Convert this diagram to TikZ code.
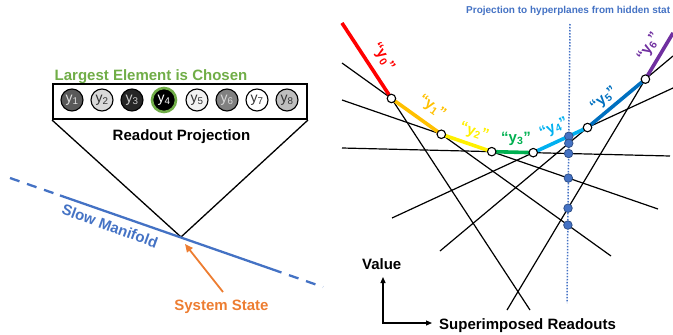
\documentclass[tikz,border=0pt]{standalone}
\usepackage{fontspec}
\setmainfont{Liberation Sans}
\usetikzlibrary{arrows.meta}
\definecolor{mgreen}{HTML}{70AD47}
\definecolor{mblue}{HTML}{4472C4}
\definecolor{morange}{HTML}{ED7D31}
\definecolor{cyA}{HTML}{FF0000}
\definecolor{cyB}{HTML}{FFC000}
\definecolor{cyC}{HTML}{FFF000}
\definecolor{cyD}{HTML}{00B050}
\definecolor{cyE}{HTML}{00B0F0}
\definecolor{cyF}{HTML}{0070C0}
\definecolor{cyG}{HTML}{7030A0}
\begin{document}
\begin{tikzpicture}[x=1pt,y=-1pt,
  lbl/.style={font=\bfseries\fontsize{15}{18}\selectfont, inner sep=0pt},
  cell/.style={circle, draw=black, line width=1.1pt, minimum size=22pt, inner sep=0pt, font=\fontsize{14}{16}\selectfont},
  hyp/.style={black, line width=1.2pt},
  seg/.style={line width=3.6pt},
  vtx/.style={circle, draw=black, fill=white, line width=1.1pt, minimum size=8.5pt, inner sep=0pt},
  dotpt/.style={circle, draw=mblue!70!black, fill=mblue, line width=0.8pt, minimum size=8.5pt, inner sep=0pt},
  seglbl/.style={font=\bfseries\fontsize{15}{18}\selectfont, inner sep=0pt}
]
\useasboundingbox (0,0) rectangle (673,335);

% ---------------- left panel ----------------
\node[lbl, text=mgreen, anchor=base] (title) at (151,80.5) {Largest Element is Chosen};
\node[draw=black, line width=2pt, minimum width=254pt, minimum height=35pt, inner sep=0pt] (box) at (180,101.5) {};
\node[cell, fill=black!65, text=black!12] (c1) at (72,100) {y\textsubscript{1}};
\node[cell, fill=black!15, text=black!80] (c2) at (102,100) {y\textsubscript{2}};
\node[cell, fill=black!85, text=black!20] (c3) at (132,100) {y\textsubscript{3}};
\node[cell, fill=black, text=white, draw=mgreen, line width=2.6pt, minimum size=24pt] (c4) at (164,100) {y\textsubscript{4}};
\node[cell, fill=black!5, text=black!80] (c5) at (197,100) {y\textsubscript{5}};
\node[cell, fill=black!50, text=black!15] (c6) at (227,100) {y\textsubscript{6}};
\node[cell, fill=white, text=black!80] (c7) at (257,100) {y\textsubscript{7}};
\node[cell, fill=black!25, text=black!80] (c8) at (287,100) {y\textsubscript{8}};
\node[lbl, anchor=base] (ro) at (181.5,140) {Readout Projection};

\coordinate (apex) at (181,237);
\draw[black, line width=1.3pt] (box.south west) -- (apex) -- (box.south east);

\coordinate (m1) at (10,178);
\coordinate (m2) at (60,195.4);
\coordinate (m3) at (272,269.2);
\coordinate (m4) at (323,287);
\draw[mblue, line width=2.3pt, dash pattern=on 10pt off 8pt] (m1) -- (m2);
\draw[mblue, line width=2.3pt] (m2) -- (m3);
\draw[mblue, line width=2.3pt, dash pattern=on 10pt off 8pt] (m3) -- (m4);
\node[lbl, text=mblue, rotate=-20] (slow) at (110,226) {Slow Manifold};

\coordinate (ssA) at (223,292);
\coordinate (ssB) at (185,244);
\draw[morange, line width=1.8pt, -{Triangle[length=8pt,width=7pt]}] (ssA) -- (ssB);
\node[lbl, text=morange, anchor=base] (ss) at (221.5,310) {System State};

% ---------------- right panel ----------------
\node[font=\bfseries\fontsize{10}{12}\selectfont, text=mblue, anchor=base west, inner sep=0pt] (hdr) at (466,13) {Projection to hyperplanes from hidden stat};

\coordinate (A1) at (342,23);  \coordinate (A2) at (530,310);
\coordinate (B1) at (342,63);  \coordinate (B2) at (611,256);
\coordinate (C1) at (342,100); \coordinate (C2) at (658,209);
\coordinate (D1) at (342,148); \coordinate (D2) at (670,156);
\coordinate (E1) at (392,218); \coordinate (E2) at (673,88);
\coordinate (F1) at (440,251); \coordinate (F2) at (673,56);
\coordinate (G1) at (507,310); \coordinate (G2) at (673,33);
\coordinate (P1) at (570,24);  \coordinate (P2) at (567,303);

\coordinate (V0) at (intersection of A1--A2 and B1--B2);
\coordinate (V1) at (intersection of B1--B2 and C1--C2);
\coordinate (V2) at (intersection of C1--C2 and D1--D2);
\coordinate (V3) at (intersection of D1--D2 and E1--E2);
\coordinate (V4) at (intersection of E1--E2 and F1--F2);
\coordinate (V5) at (intersection of F1--F2 and G1--G2);

\draw[hyp] (A1) -- (A2);
\draw[hyp] (B1) -- (B2);
\draw[hyp] (C1) -- (C2);
\draw[hyp] (D1) -- (D2);
\draw[hyp] (E1) -- (E2);
\draw[hyp] (F1) -- (F2);
\draw[hyp] (G1) -- (G2);

\draw[seg, cyA] (A1) -- (V0);
\draw[seg, cyB] (V0) -- (V1);
\draw[seg, cyC] (V1) -- (V2);
\draw[seg, cyD] (V2) -- (V3);
\draw[seg, cyE] (V3) -- (V4);
\draw[seg, cyF] (V4) -- (V5);
\draw[seg, cyG] (V5) -- (G2);

\draw[mblue, line width=1.5pt, dash pattern=on 1.5pt off 1.5pt] (P1) -- (P2);

\node[dotpt] (dE) at (intersection of P1--P2 and E1--E2) {};
\node[dotpt] (dF) at (intersection of P1--P2 and F1--F2) {};
\node[dotpt] (dD) at (intersection of P1--P2 and D1--D2) {};
\node[dotpt] (dC) at (intersection of P1--P2 and C1--C2) {};
\node[dotpt] (dG) at (intersection of P1--P2 and G1--G2) {};
\node[dotpt] (dB) at (intersection of P1--P2 and B1--B2) {};

\node[vtx] (w0) at (V0) {};
\node[vtx] (w1) at (V1) {};
\node[vtx] (w2) at (V2) {};
\node[vtx] (w3) at (V3) {};
\node[vtx] (w4) at (V4) {};
\node[vtx] (w5) at (V5) {};

\node[seglbl, text=cyA, rotate=-57] (l0) at (383,57) {“y\textsubscript{0}”};
\node[seglbl, text=cyB, rotate=-35] (l1) at (432,107) {“y\textsubscript{1}”};
\node[seglbl, text=cyC, rotate=-19] (l2) at (474,132) {“y\textsubscript{2}”};
\node[seglbl, text=cyD] (l3) at (516,139) {“y\textsubscript{3}”};
\node[seglbl, text=cyE, rotate=25] (l4) at (554,128) {“y\textsubscript{4}”};
\node[seglbl, text=cyF, rotate=40] (l5) at (604,99) {“y\textsubscript{5}”};
\node[seglbl, text=cyG, rotate=58] (l6) at (649,47) {“y\textsubscript{6}”};

% axes
\coordinate (ax0) at (383,277);
\coordinate (ax1) at (432,323);
\draw[black, line width=1.2pt, {Triangle[length=6pt,width=5pt]}-{Triangle[length=6pt,width=5pt]}] (ax0) |- (ax1);
\node[lbl, anchor=base] (val) at (381.7,269) {Value};
\node[lbl, anchor=base west] (sup) at (439,329) {Superimposed Readouts};
\end{tikzpicture}
\end{document}
